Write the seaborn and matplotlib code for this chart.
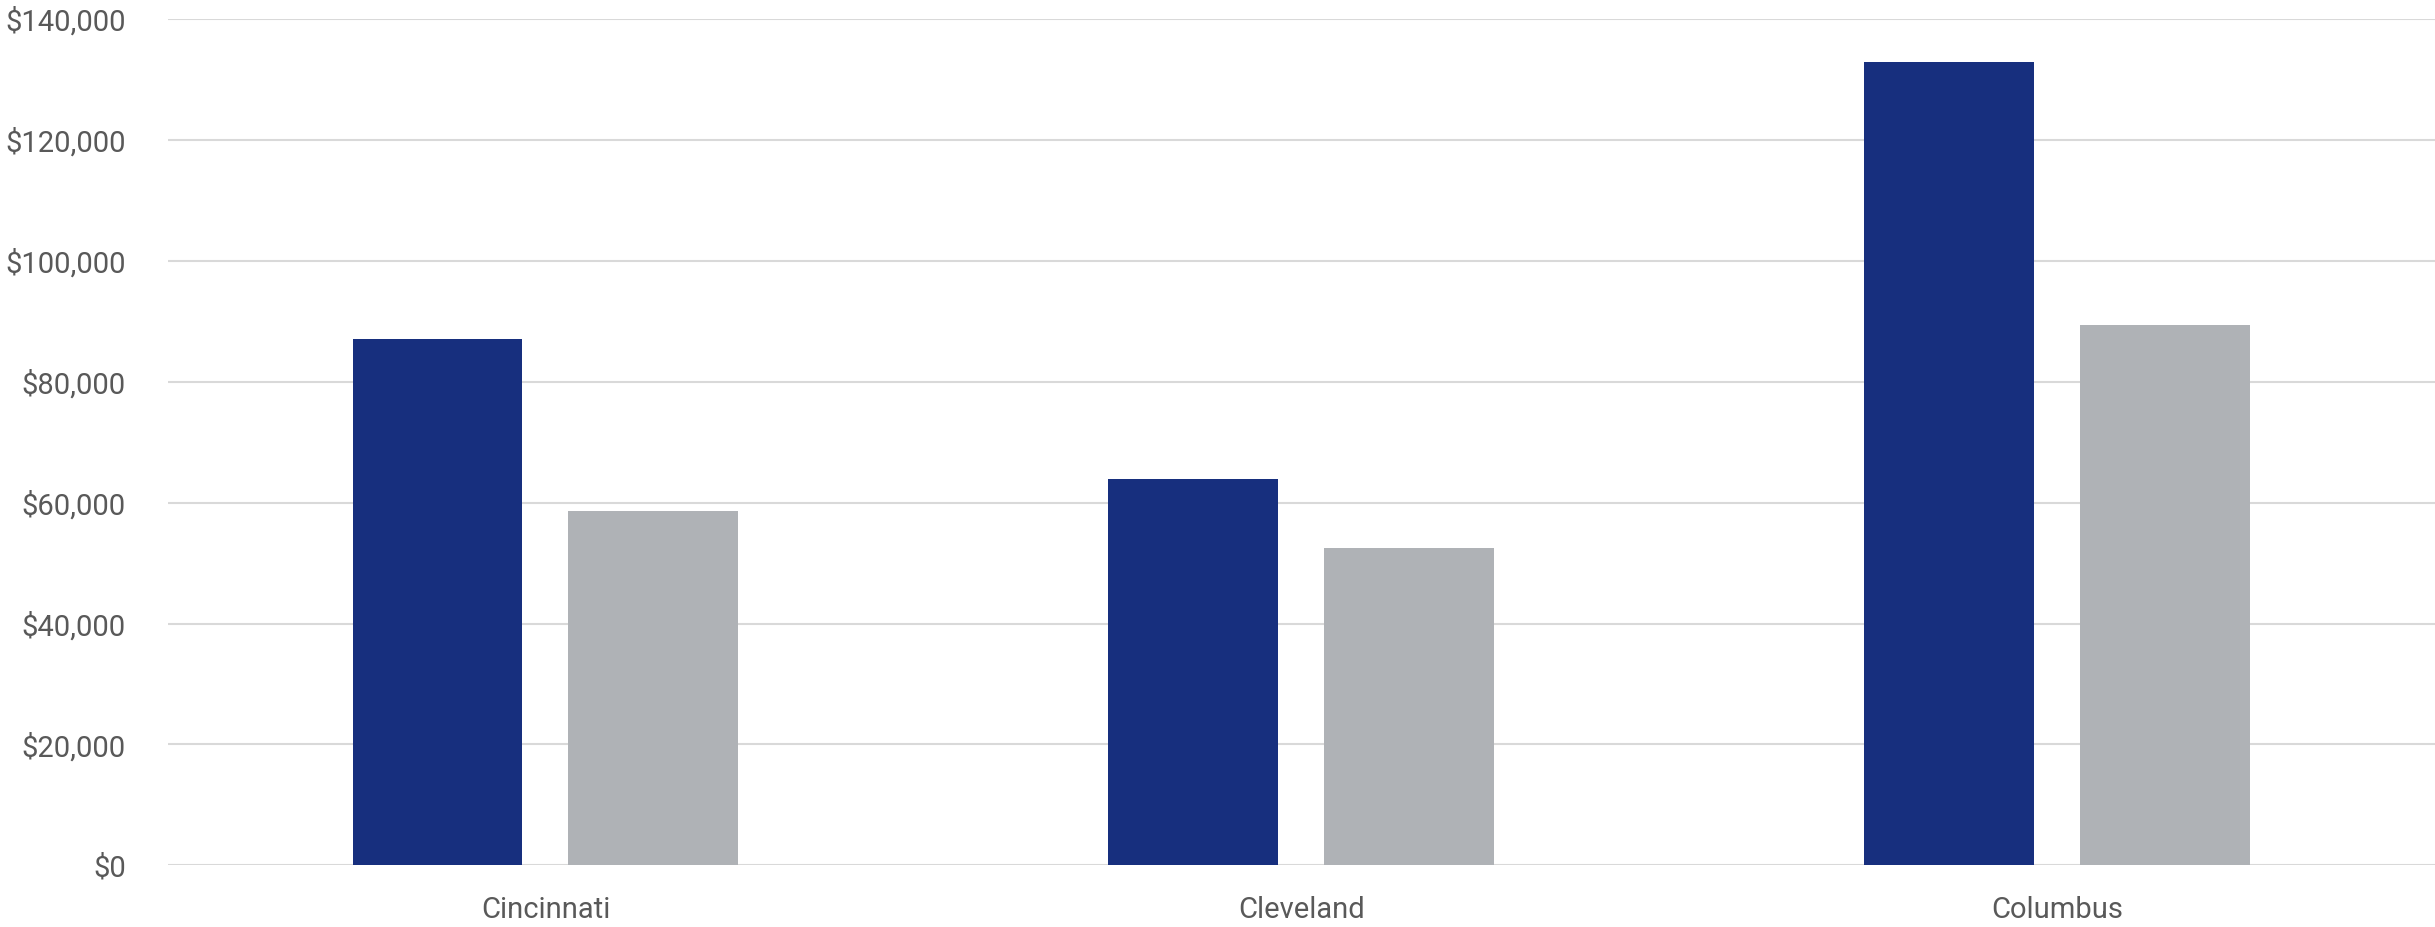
import matplotlib
matplotlib.use("Agg")
import matplotlib.pyplot as plt
import matplotlib.ticker as mticker
import seaborn as sns
import pandas as pd

cities = ["Cincinnati", "Cleveland", "Columbus"]
series_a = [87100, 64000, 132900]
series_b = [58600, 52500, 89400]
series_names = ["Series A", "Series B"]
y_ticks = [0, 20000, 40000, 60000, 80000, 100000, 120000, 140000]

df = pd.DataFrame({
    "city": cities * 2,
    "value": series_a + series_b,
    "series": [series_names[0]] * 3 + [series_names[1]] * 3,
})

sns.set_theme(style="white")
plt.rcParams["font.family"] = ["Roboto", "DejaVu Sans"]

fig = plt.figure(figsize=(24.35, 9.27), dpi=100)
ax = fig.add_axes([0.0688, 0.0665, 0.9312, 0.9127])

sns.barplot(data=df, x="city", y="value", hue="series", order=cities,
            hue_order=series_names, palette=["#172F7E", "#AFB2B6"],
            saturation=1, width=0.571, gap=0.213, linewidth=0,
            legend=False, ax=ax, zorder=3)

ax.set_xlim(-0.5, 2.5)
ax.set_ylim(0, 140000)
ax.set_yticks(y_ticks)
ax.yaxis.set_major_formatter(mticker.FuncFormatter(lambda v, p: f"${v:,.0f}"))
ax.grid(axis="y", color="#D9D9D9", linewidth=1.5, zorder=0)
ax.set_axisbelow(True)
for s in ax.spines.values():
    s.set_visible(False)
ax.set_xlabel("")
ax.set_ylabel("")
ax.tick_params(axis="y", length=0, pad=30, labelsize=21, labelcolor="#595959")
ax.tick_params(axis="x", length=0, pad=22, labelsize=21, labelcolor="#595959")

fig.savefig("out.png", dpi=100, facecolor="white")
